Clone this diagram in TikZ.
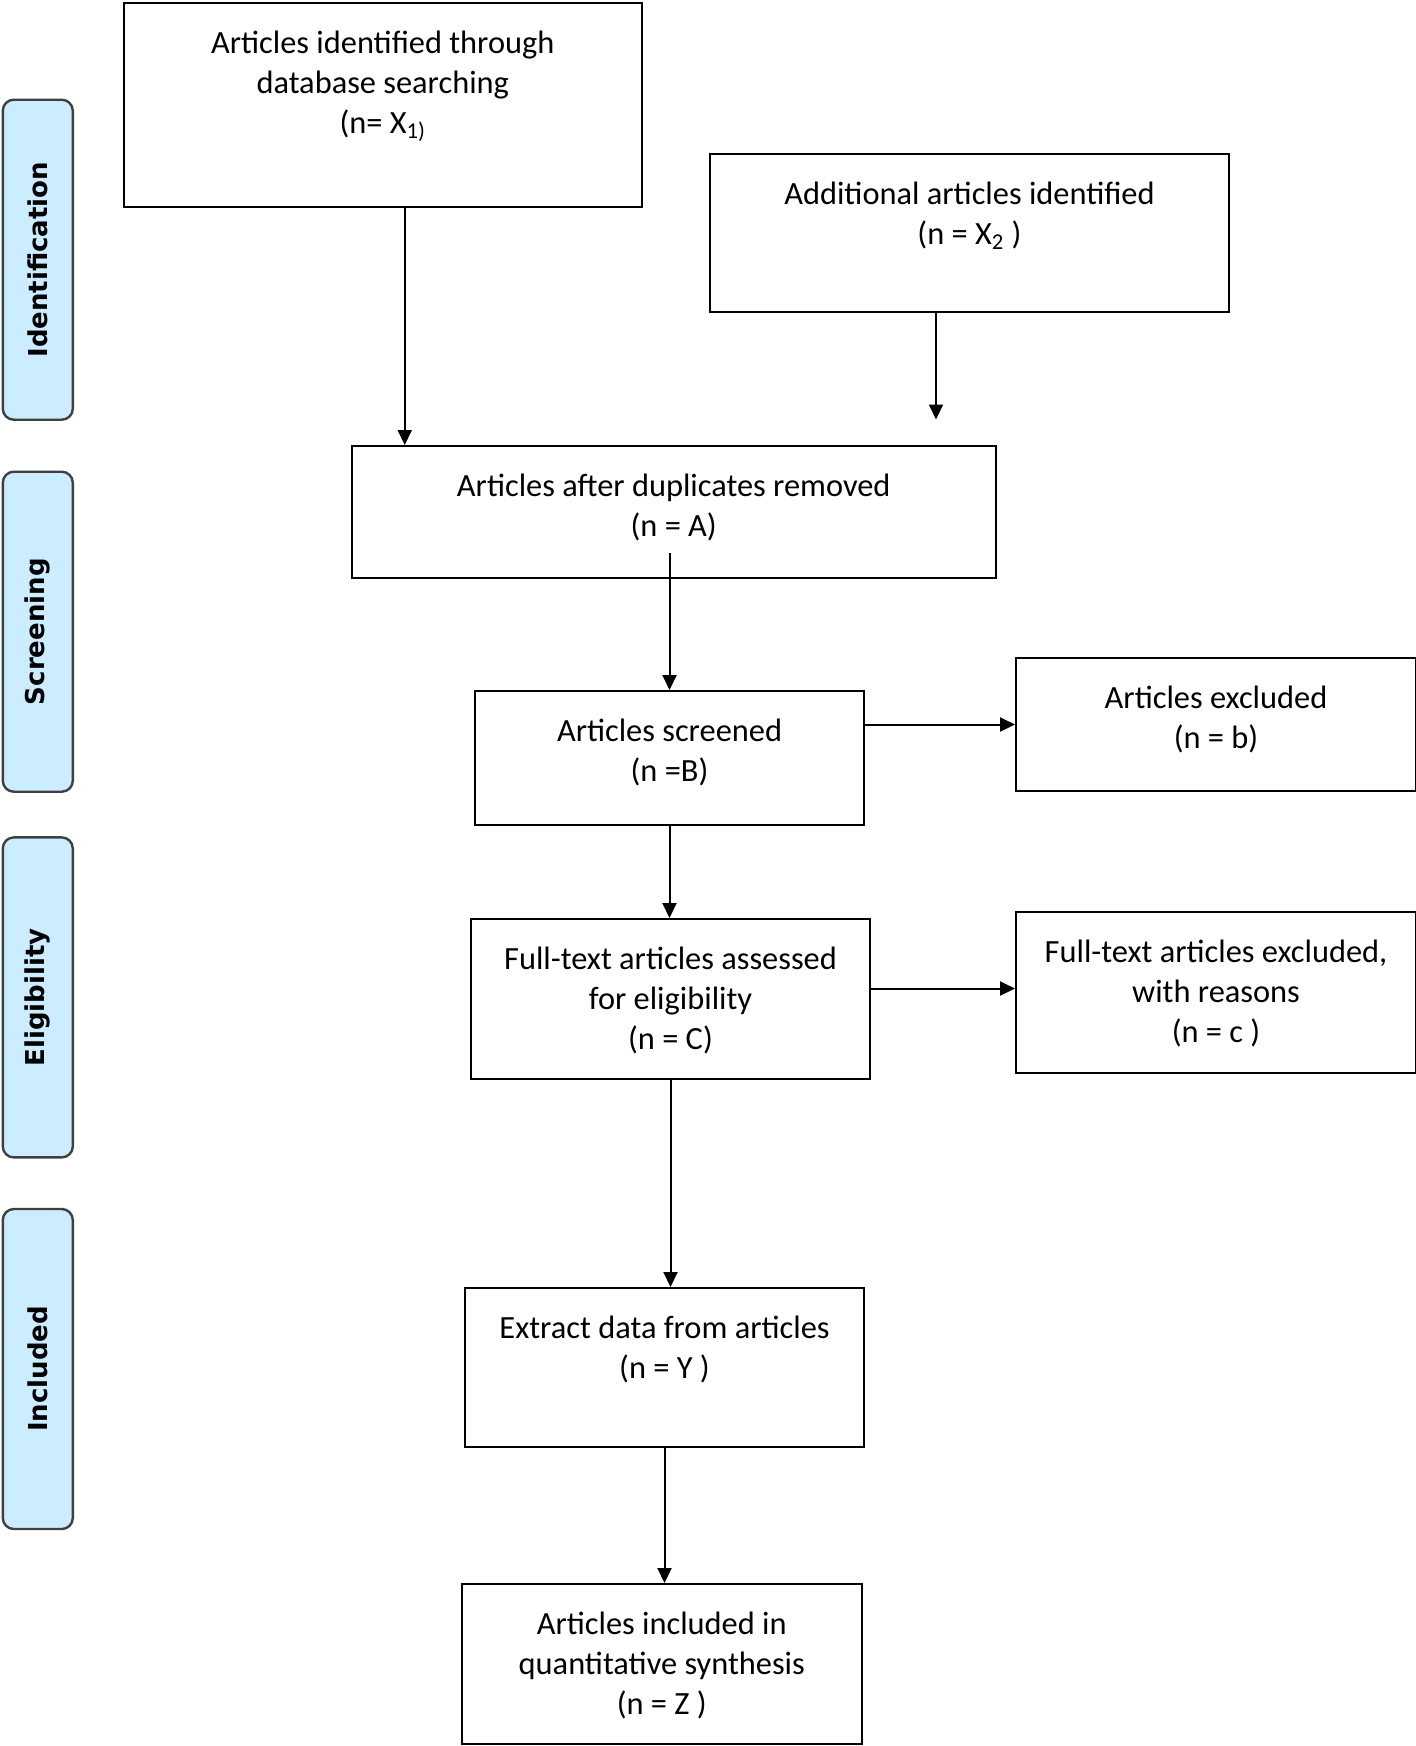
\documentclass[tikz,border=0pt]{standalone}
\usepackage{fontspec}
\setmainfont{Carlito}
\newfontfamily\phasefont{DejaVu Sans}
\usetikzlibrary{positioning,arrows.meta}
\definecolor{phaseblue}{RGB}{204,236,255}
\definecolor{phaseline}{RGB}{64,64,64}

\begin{document}
\begin{tikzpicture}[x=0.5pt,y=-0.5pt,
  box/.style={draw,line width=1pt,anchor=north west,inner sep=0pt},
  txt/.style={align=center,inner sep=0pt,font=\fontsize{16.2}{20}\selectfont},
  phase/.style={draw=phaseline,fill=phaseblue,line width=1.2pt,rounded corners=5.5pt,
    rotate=90,minimum width=160pt,minimum height=35pt,inner sep=0pt,
    font=\phasefont\bfseries\fontsize{13}{15}\selectfont},
  arr/.style={line width=1pt,-{Triangle[length=7.5pt,width=7pt]}}]
\useasboundingbox (0,0) rectangle (1416,1746);
% phases on the left
\node[phase] (ph1) at (37.8,259.7) {Identification};
\node[phase] (ph2) at (37.8,631.7) {Screening};
\node[phase] (ph3) at (37.8,997.4) {Eligibility};
\node[phase] (ph4) at (37.8,1369) {Included};
% boxes
\node[box,minimum width=259.25pt,minimum height=102pt] (db) at (122.5,1.5) {};
\node[box,minimum width=259.5pt,minimum height=79pt] (add) at (709,152.5) {};
\node[box,minimum width=322pt,minimum height=65.8pt] (dup) at (350.7,445) {};
\node[box,minimum width=194.5pt,minimum height=67pt] (scr) at (474,690) {};
\node[box,minimum width=200pt,minimum height=66.5pt] (exc) at (1015,657) {};
\node[box,minimum width=199.5pt,minimum height=80pt] (full) at (470,918) {};
\node[box,minimum width=200pt,minimum height=80.5pt] (ftex) at (1015,911) {};
\node[box,minimum width=199.5pt,minimum height=79.5pt] (ext) at (464,1287) {};
\node[box,minimum width=199.75pt,minimum height=80pt] (inc) at (461,1583) {};
% texts
\node[txt,below=14.5pt of db.north] (dbt) {Articles identified through\\database searching\\(n= X\textsubscript{1)}};
\node[txt,below=14.5pt of add.north] (addt) {Additional articles identified\\(n = X\textsubscript{2} )};
\node[txt,below=14.5pt of dup.north] (dupt) {Articles after duplicates removed\\(n = A)};
\node[txt,below=14.5pt of scr.north] (scrt) {Articles screened\\(n =B)};
\node[txt,below=14.5pt of exc.north] (exct) {Articles excluded\\(n = b)};
\node[txt,below=14.5pt of full.north] (fullt) {Full-text articles assessed\\for eligibility\\(n = C)};
\node[txt,below=14.5pt of ftex.north] (ftext) {Full-text articles excluded,\\with reasons\\(n = c )};
\node[txt,below=14.5pt of ext.north] (extt) {Extract data from articles\\(n = Y )};
\node[txt,below=14.5pt of inc.north] (inct) {Articles included in\\quantitative synthesis\\(n = Z )};
% arrows
\coordinate (dbout) at ([xshift=11pt]db.south);
\coordinate (addout) at ([xshift=-16.75pt]add.south);
\coordinate (addend) at ([yshift=-53.5pt]addout);
\coordinate (dupout) at ([yshift=12.8pt]dup.south);
\draw[arr] (dbout) -- (dbout |- dup.north);
\draw[arr] (addout) -- (addend);
\draw[arr] (dupout -| scr.north) -- (scr.north);
\draw[arr] (scr.east |- exc.west) -- (exc.west);
\draw[arr] (scr.south) -- (scr.south |- full.north);
\draw[arr] ([yshift=2pt]full.east |- ftex.west) -- ([yshift=2pt]ftex.west);
\draw[arr] (full.south) -- (full.south |- ext.north);
\draw[arr] (ext.south) -- (ext.south |- inc.north);
\end{tikzpicture}
\end{document}
